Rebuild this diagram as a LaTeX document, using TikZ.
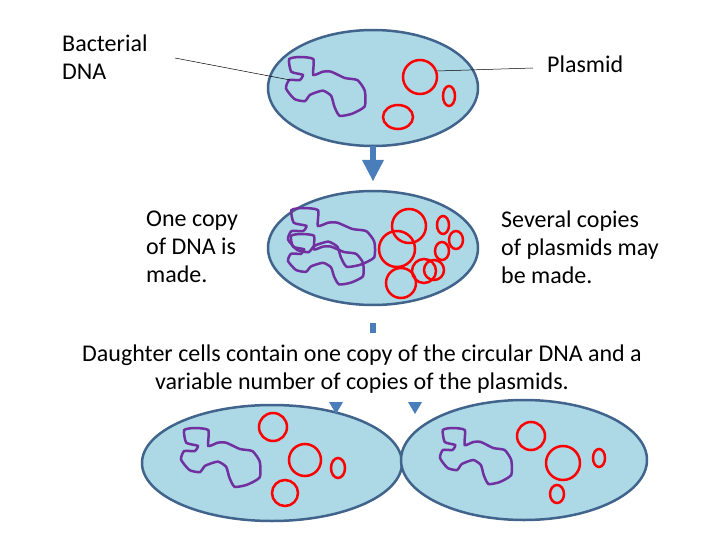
\documentclass[tikz,border=0pt]{standalone}
\usepackage{fontspec}
\setmainfont{Carlito}
\usetikzlibrary{shapes.geometric}
\begin{document}
\begin{tikzpicture}[x=1pt,y=-1pt,
  cell/.style={draw={rgb,255:red,65;green,100;blue,140}, line width=2.5pt, fill={rgb,255:red,173;green,216;blue,230}},
  dna/.style={draw={rgb,255:red,112;green,48;blue,160}, line width=2.5pt},
  pl/.style={draw=red, line width=2.5pt},
  lbl/.style={font=\fontsize{24}{28}\selectfont, align=left, anchor=north west, inner sep=0pt},
  ptr/.style={draw=black, line width=0.5pt},
  arr/.style={fill={rgb,255:red,74;green,126;blue,187}, draw=none}]
\useasboundingbox (0,0) rectangle (720,540);
\def\dnapath{plot[smooth cycle, tension=0.35] coordinates {(3,2)(13,0)(26,2)(26,17)(35,14)(43,14)(56,20)(68,22)(75,32)(75,47)(63,54)(51,56)(46,47)(43,37)(35,32)(23,36)(18,42)(8,40)(0,30)(3,22)(13,22)(16,17)(5,14)}}
% cells
\node[cell, ellipse, minimum width=210, minimum height=116, inner sep=0] (c1) at (373,88) {};
\node[cell, ellipse, minimum width=210, minimum height=114, inner sep=0] (c2) at (373,248) {};
\node[cell, ellipse, minimum width=260, minimum height=116, inner sep=0] (c3) at (272,463) {};
\node[cell, ellipse, minimum width=246, minimum height=120, inner sep=0] (c4) at (524,460) {};
% top cell
\draw[dna, shift={(286,57)}, scale=1.05] \dnapath;
\draw[pl] (420,77) circle[radius=17];
\draw[pl] (449,96) ellipse[x radius=6, y radius=10];
\draw[pl] (398,117) ellipse[x radius=15, y radius=12];
% middle cell
\draw[dna, shift={(288,208)}, xscale=1.15, yscale=1.05] \dnapath;
\draw[dna, shift={(288,234)}, xscale=1.0, yscale=0.9] \dnapath;
\draw[pl] (409,226) circle[radius=17];
\draw[pl] (397,249) circle[radius=18];
\draw[pl] (401,283) circle[radius=15];
\draw[pl] (443,225) ellipse[x radius=6, y radius=9];
\draw[pl] (456,240) ellipse[x radius=7, y radius=9];
\draw[pl] (442,251) ellipse[x radius=7, y radius=9];
\draw[pl] (424,271) circle[radius=12];
\draw[pl] (434,270) circle[radius=10];
% bottom left
\draw[dna, shift={(181,428)}, scale=1.05] \dnapath;
\draw[pl] (273,427) circle[radius=14];
\draw[pl] (305,460) circle[radius=16];
\draw[pl] (285,493) circle[radius=13];
\draw[pl] (338,468) ellipse[x radius=7, y radius=10];
% bottom right
\draw[dna, shift={(440,428)}, xscale=0.95] \dnapath;
\draw[pl] (531,436) circle[radius=14];
\draw[pl] (563,463) circle[radius=17];
\draw[pl] (557,494) ellipse[x radius=7, y radius=9];
\draw[pl] (599,458) ellipse[x radius=6, y radius=9];
% arrows
\fill[arr] (370,146) rectangle (376,162);
\fill[arr] (362,160) -- (384,160) -- (373,181) -- cycle;
\fill[arr] (370,323) rectangle (376,333);
\fill[arr] (329,402) -- (343,402) -- (336,414) -- cycle;
\fill[arr] (408,402) -- (422,402) -- (415,414) -- cycle;
% labels
\node[lbl] (bd) at (62,35) {Bacterial\\DNA};
\node[lbl] (pm) at (547,56) {Plasmid};
\node[lbl] (oc) at (146,211) {One copy\\of DNA is\\made.};
\node[lbl] (sc) at (501,211) {Several copies\\of plasmids may\\be made.};
\node[font=\fontsize{24}{28}\selectfont, align=center, inner sep=0] (dc) at (362,369) {Daughter cells contain one copy of the circular DNA and a\\variable number of copies of the plasmids.};
\coordinate (d1) at (290,80);
\coordinate (p1) at (437,71);
\draw[ptr] (175,58) -- (d1);
\draw[ptr] (p1) -- (533,68);
\end{tikzpicture}
\end{document}
